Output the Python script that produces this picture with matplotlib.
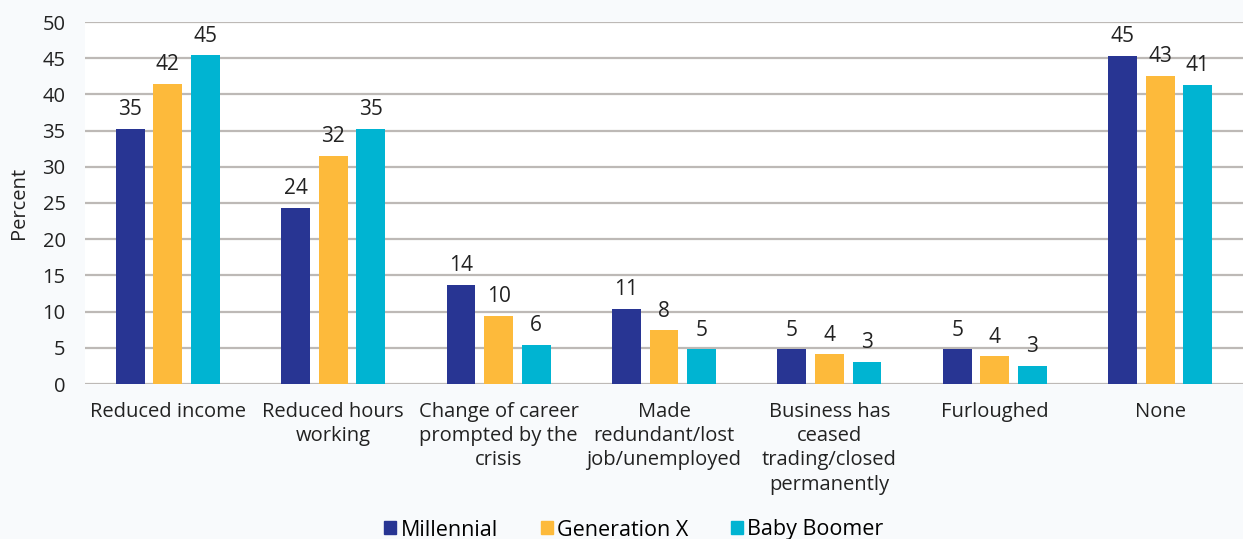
import numpy as np
import matplotlib
matplotlib.use("Agg")
import matplotlib.pyplot as plt
import matplotlib.patches as patches

plt.rcParams['font.family'] = ['Open Sans', 'DejaVu Sans']

categories = [
    "Reduced income",
    "Reduced hours\nworking",
    "Change of career\nprompted by the\ncrisis",
    "Made\nredundant/lost\njob/unemployed",
    "Business has\nceased\ntrading/closed\npermanently",
    "Furloughed",
    "None",
]
series_names = ["Millennial", "Generation X", "Baby Boomer"]
millennial = [35.2, 24.3, 13.7, 10.4, 4.8, 4.8, 45.3]
generation_x = [41.5, 31.5, 9.4, 7.4, 4.1, 3.8, 42.6]
baby_boomer = [45.4, 35.2, 5.4, 4.8, 3.1, 2.5, 41.3]
millennial_labels = [35, 24, 14, 11, 5, 5, 45]
generation_x_labels = [42, 32, 10, 8, 4, 4, 43]
baby_boomer_labels = [45, 35, 6, 5, 3, 3, 41]

colors = ["#283593", "#FDBA3B", "#00B4D2"]
bg = "#F8FAFC"
text_color = "#222222"

fig = plt.figure(figsize=(12.43, 5.39), dpi=100, facecolor=bg)
ax = fig.add_axes([85 / 1243, 1 - 384 / 539, (1243 - 85) / 1243, (384 - 22) / 539])
ax.set_facecolor("white")

x = np.arange(len(categories))
width = 0.175
offset = 0.227
all_vals = [millennial, generation_x, baby_boomer]
all_labels = [millennial_labels, generation_x_labels, baby_boomer_labels]
for i, (vals, labs) in enumerate(zip(all_vals, all_labels)):
    pos = x + (i - 1) * offset
    ax.bar(pos, vals, width=width, color=colors[i], zorder=3)
    for px, v, lab in zip(pos, vals, labs):
        ax.text(px, v + 1.2, str(lab), ha="center", va="bottom",
                fontsize=15, color=text_color)

ax.set_xlim(-0.5, len(categories) - 0.5)
ax.set_ylim(0, 50)
ax.set_yticks(range(0, 51, 5))
ax.yaxis.grid(True, color="#BDB9B6", linewidth=1.6, zorder=0)
ax.set_axisbelow(True)
for s in ax.spines.values():
    s.set_visible(False)
ax.tick_params(axis="both", length=0, labelsize=14.5, colors=text_color)
ax.tick_params(axis="y", pad=14)
ax.set_xticks(x)
ax.set_xticklabels(categories, fontsize=14.5, va="top", linespacing=1.28)
ax.tick_params(axis="x", pad=13)
ax.set_ylabel("Percent", fontsize=14.5, color=text_color, labelpad=10)

handles = [patches.Patch(color=c, label=n) for c, n in zip(colors, series_names)]
fig.legend(handles=handles, loc="center", bbox_to_anchor=(0.51, 1 - 530 / 539),
           ncol=3, frameon=False, fontsize=15.5, handlelength=0.55,
           handleheight=0.55, handletextpad=0.2, columnspacing=2.0)

fig.savefig("out.png", dpi=100, facecolor=bg)
